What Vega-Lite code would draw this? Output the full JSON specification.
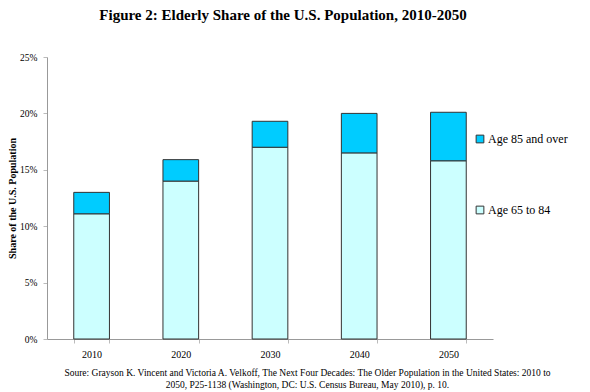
{
  "$schema": "https://vega.github.io/schema/vega-lite/v6.json",
  "width": 446,
  "height": 282,
  "autosize": {"type": "none"},
  "padding": {"left": 47, "top": 57, "right": 97, "bottom": 53},
  "background": "white",
  "title": {
    "text": "Figure 2: Elderly Share of the U.S. Population, 2010-2050",
    "font": "Liberation Serif",
    "fontSize": 15,
    "fontWeight": "bold",
    "color": "black",
    "anchor": "middle",
    "dx": 13,
    "offset": 29
  },
  "data": {
    "values": [
      {"year": "2010", "group": "Age 65 to 84", "share": 11.1, "ord": 1},
      {"year": "2010", "group": "Age 85 and over", "share": 1.9, "ord": 2},
      {"year": "2020", "group": "Age 65 to 84", "share": 14.0, "ord": 1},
      {"year": "2020", "group": "Age 85 and over", "share": 1.9, "ord": 2},
      {"year": "2030", "group": "Age 65 to 84", "share": 17.0, "ord": 1},
      {"year": "2030", "group": "Age 85 and over", "share": 2.3, "ord": 2},
      {"year": "2040", "group": "Age 65 to 84", "share": 16.5, "ord": 1},
      {"year": "2040", "group": "Age 85 and over", "share": 3.5, "ord": 2},
      {"year": "2050", "group": "Age 65 to 84", "share": 15.8, "ord": 1},
      {"year": "2050", "group": "Age 85 and over", "share": 4.3, "ord": 2}
    ]
  },
  "mark": {"type": "bar", "stroke": "#333333", "strokeWidth": 1},
  "encoding": {
    "x": {
      "field": "year",
      "type": "ordinal",
      "scale": {"paddingInner": 0.6, "paddingOuter": 0.3},
      "axis": {
        "labelAngle": 0,
        "tickBand": "extent",
        "labelFont": "Liberation Serif",
        "labelFontSize": 10,
        "labelColor": "black",
        "labelPadding": 6,
        "tickSize": 4,
        "tickColor": "#bbbbbb",
        "domainColor": "#999999",
        "grid": false,
        "title": [
          "Soure: Grayson K. Vincent and Victoria A. Velkoff, The Next Four Decades: The Older Population in the United States: 2010 to",
          "2050,  P25-1138 (Washington, DC: U.S. Census Bureau, May 2010), p. 10."
        ],
        "titleFont": "Liberation Serif",
        "titleFontSize": 9.5,
        "titleFontWeight": "normal",
        "titleColor": "black",
        "titleAlign": "center",
        "titleBaseline": "top",
        "titleLineHeight": 12,
        "titleX": 260,
        "titleY": 28
      }
    },
    "y": {
      "field": "share",
      "type": "quantitative",
      "stack": "zero",
      "scale": {"domain": [0, 25], "nice": false},
      "axis": {
        "values": [0, 5, 10, 15, 20, 25],
        "labelExpr": "datum.value + '%'",
        "labelFont": "Liberation Serif",
        "labelFontSize": 9.5,
        "labelColor": "black",
        "labelPadding": 6,
        "tickSize": 4,
        "tickColor": "#bbbbbb",
        "domainColor": "#999999",
        "grid": false,
        "title": "Share of the U.S. Population",
        "titleFont": "Liberation Serif",
        "titleFontSize": 10,
        "titleFontWeight": "bold",
        "titleColor": "black",
        "titleX": -35,
        "titleY": 141,
        "titleAngle": -90,
        "titleAlign": "center",
        "titleBaseline": "middle"
      }
    },
    "color": {
      "field": "group",
      "type": "nominal",
      "scale": {
        "domain": ["Age 85 and over", "Age 65 to 84"],
        "range": ["#00CCFF", "#CCFFFF"]
      },
      "legend": {
        "title": null,
        "orient": "none",
        "legendX": 427,
        "legendY": 76,
        "symbolType": "square",
        "symbolSize": 60,
        "symbolStrokeColor": "#333333",
        "symbolStrokeWidth": 1,
        "labelFont": "Liberation Serif",
        "labelFontSize": 12,
        "labelColor": "black",
        "labelOffset": 2,
        "rowPadding": 59
      }
    },
    "order": {"field": "ord", "type": "quantitative"}
  },
  "config": {"view": {"stroke": null}}
}
